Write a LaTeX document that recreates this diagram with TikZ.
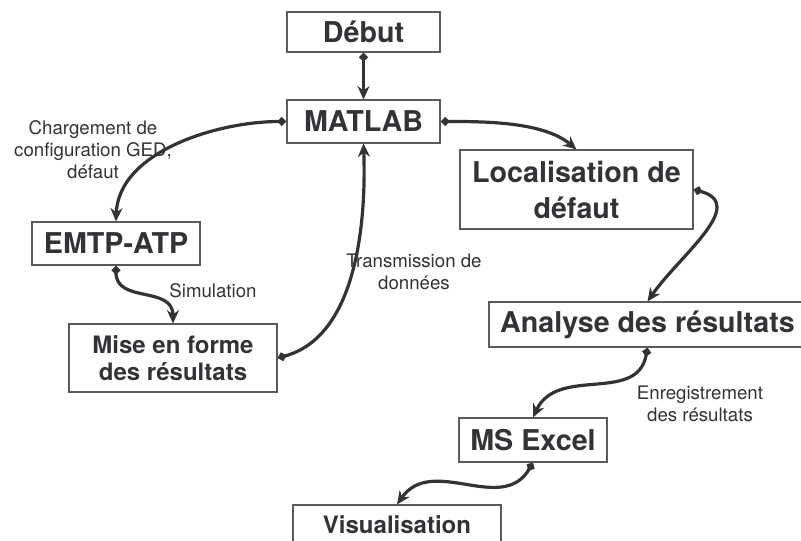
\documentclass[tikz,border=0pt]{standalone}
\usepackage{fontspec}
\setmainfont{TeX Gyre Heros}
\usetikzlibrary{arrows.meta}
\definecolor{ink}{RGB}{51,51,55}
\definecolor{frame}{RGB}{90,90,90}
\tikzset{
  box/.style = {draw=frame, line width=0.8pt, text=ink, font=\fontsize{21.5}{27}\selectfont\bfseries, align=center, inner sep=0pt},
  boxsmall/.style = {box, font=\fontsize{18}{20.5}\selectfont\bfseries},
  lbl/.style = {text=ink, font=\fontsize{14}{16.5}\selectfont, align=center, inner sep=0pt},
  link/.style = {{Diamond[length=7pt,width=7pt]}-{Stealth[length=10pt,width=9pt]}, ink, line width=2.4pt},
}

\begin{document}
\begin{tikzpicture}[x=0.75pt, y=-0.75pt]
	\useasboundingbox (0,0) rectangle (801,541);

	% boxes
	\node[box, minimum width=114.75pt, minimum height=30pt] (debut) at (363.5,32) {Début};
	\node[box, minimum width=114.75pt, minimum height=32.25pt] (matlab) at (363.5,121.5) {MATLAB};
	\node[box, minimum width=126pt, minimum height=32.25pt] (emtp) at (116,243.5) {EMTP-ATP};
	\node[boxsmall, minimum width=156pt, minimum height=51pt] (mise) at (173,358) {Mise en forme\\des résultats};
	\node[box, minimum width=174.75pt, minimum height=59.25pt] (local) at (576.5,189.5) {Localisation de\\défaut};
	\node[box, minimum width=237.75pt, minimum height=33.75pt] (analyse) at (647.5,324.5) {Analyse des résultats};
	\node[box, minimum width=111pt, minimum height=33pt] (excel) at (533,440) {MS Excel};
	\node[boxsmall, minimum width=156pt, minimum height=30pt] (visu) at (397,525) {Visualisation};

	% labels
	\node[lbl] (lcharge) at (93,150) {Chargement de\\configuration GED,\\défaut};
	\node[lbl] (lsimu) at (213,291) {Simulation};
	\node[lbl] (ltrans) at (414,272) {Transmission de\\données};
	\node[lbl] (lenreg) at (700,404) {Enregistrement\\des résultats};

	% links
	\draw[link] (debut.south) -- (matlab.north);
	\draw[link] (matlab.west) to[out=180, in=88, looseness=0.9] (emtp.north);
	\draw[link] (emtp.south) to[out=-90, in=90, looseness=1.2] (mise.north);
	\draw[link] (mise.east) to[out=15, in=-88, looseness=0.9] (matlab.south);
	\draw[link] (matlab.east) to[out=0, in=140, looseness=0.8] (local.north);
	\draw[link] (local.east) to[out=-15, in=55, looseness=1.2] (analyse.north);
	\draw[link] (analyse.south) to[out=-100, in=65, looseness=1.1] (excel.north);
	\draw[link] (excel.south) to[out=-120, in=55, looseness=1.1] (visu.north);
\end{tikzpicture}
\end{document}
